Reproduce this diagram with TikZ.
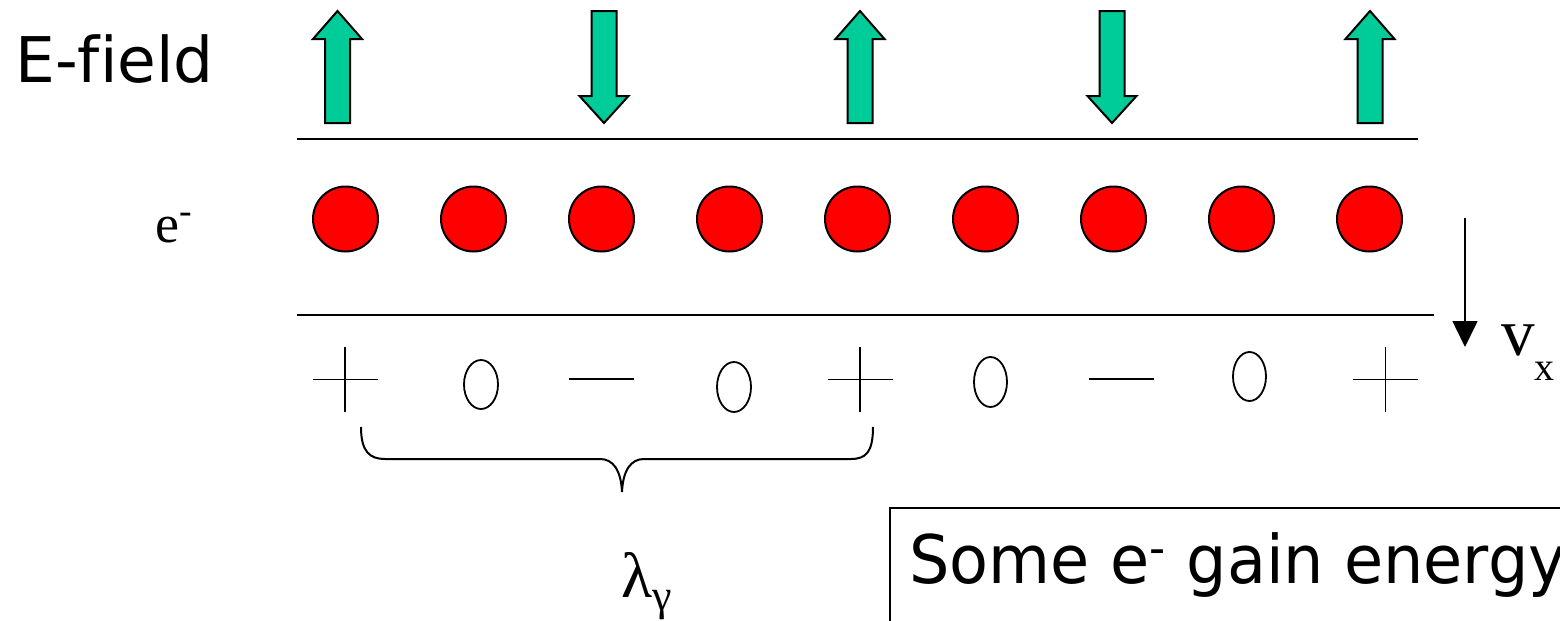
\documentclass[tikz,border=0pt]{standalone}
\usepackage{fontspec}
\setmainfont{Liberation Serif}
\newfontfamily\verd[Ligatures=NoCommon]{DejaVu Sans}
\newfontfamily\verdnarrow[Ligatures=NoCommon,FakeStretch=0.95]{DejaVu Sans}
\usetikzlibrary{arrows.meta}
\definecolor{fieldgreen}{RGB}{0,204,153}
\definecolor{bunchred}{RGB}{255,0,0}

\begin{document}
\begin{tikzpicture}[x=0.5pt,y=-0.5pt,
  rule/.style={line width=1pt},
  fieldarrow/.style={draw=black, fill=fieldgreen, line width=1pt, line join=miter},
  electron/.style={circle, draw=black, fill=bunchred, line width=1pt,
                   minimum size=32.5pt, inner sep=0pt},
  sign/.style={line width=0.9pt},
  lbl/.style={inner sep=0pt, anchor=base west},
  ]
\useasboundingbox (0,0) rectangle (1560,621);
\clip (0,0) rectangle (1560,621);

% field arrows pointing up
\foreach \cx in {337.5,860,1370}
  \draw[fieldarrow] (\cx,11) -- (\cx+24.5,39) -- (\cx+12.5,39) -- (\cx+12.5,123)
    -- (\cx-12.5,123) -- (\cx-12.5,39) -- (\cx-24.5,39) -- cycle;
% field arrows pointing down
\foreach \cx in {604,1112}
  \draw[fieldarrow] (\cx,123) -- (\cx+24.5,96) -- (\cx+12.5,96) -- (\cx+12.5,11)
    -- (\cx-12.5,11) -- (\cx-12.5,96) -- (\cx-24.5,96) -- cycle;

\node[lbl, font=\verd\fontsize{31.5}{31.5}\selectfont] (efield) at (15,83) {E-field};

% channel walls
\draw[rule] (297,139) -- (1418,139);
\draw[rule] (297,315) -- (1434,315);

% electron bunch
\node[lbl, font=\fontsize{27}{27}\selectfont] (elabel) at (155,242) {e\textsuperscript{-}};
\foreach \i in {1,...,9}
  \node[electron] (e\i) at ({345.5+128*(\i-1)},219) {};

% drift direction
\coordinate (vtop) at (1465,218);
\coordinate (vtip) at (1465,347);
\draw[line width=0.8pt, -{Triangle[width=12.5pt,length=13pt]}] (vtop) -- (vtip);
\node[lbl, font=\fontsize{33.5}{33.5}\selectfont] (vx) at (1501,355)
  {v\raisebox{-12.5pt}{\fontsize{20}{20}\selectfont x}};

% charge pattern
\foreach \px in {345,860,1385.5} {
  \draw[sign] (\px-32.5,379.5) -- (\px+32.5,379.5);
  \draw[sign] (\px,347) -- (\px,412);
}
\foreach \mx in {601.5,1121.5}
  \draw[sign] (\mx-32.5,379) -- (\mx+32.5,379);
\draw[sign] (481,384.5) ellipse [x radius=17, y radius=24.5];
\draw[sign] (734,387) ellipse [x radius=17, y radius=25];
\draw[sign] (990.5,382) ellipse [x radius=16.5, y radius=25];
\draw[sign] (1249.5,376.5) ellipse [x radius=16.5, y radius=24.5];

% wavelength brace
\draw[line width=1pt] (361,427) .. controls (361,452) and (370,459) .. (385,459)
  -- (600,459) .. controls (613,459) and (621,470) .. (622,492)
  .. controls (623,470) and (631,459) .. (644,459)
  -- (851,459) .. controls (866,459) and (873,452) .. (873,427);
\node[lbl, font=\fontsize{32}{32}\selectfont] (lambda) at (621,597)
  {λ\raisebox{-6.5pt}{\fontsize{22}{22}\selectfont γ}};

% note box
\draw[line width=0.8pt] (890,508) rectangle (1620,700);
\node[lbl, font=\verdnarrow\fontsize{33.5}{33.5}\selectfont] (gain) at (909,583)
  {Some e\textsuperscript{-} gain energy};
\end{tikzpicture}
\end{document}
